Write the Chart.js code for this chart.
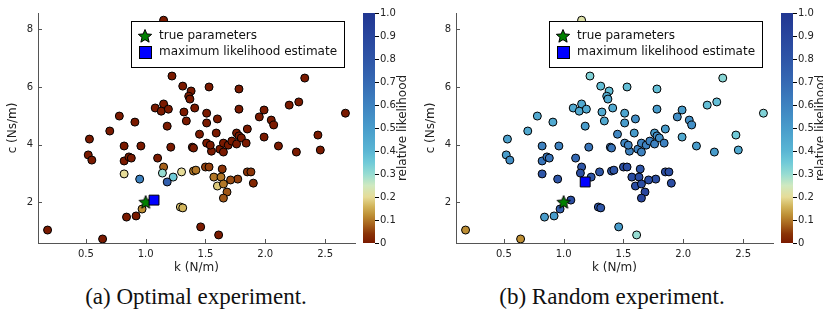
<!DOCTYPE html>
<html>
<head>
<meta charset="utf-8">
<script src="https://cdn.jsdelivr.net/npm/chart.js@4.4.1/dist/chart.umd.min.js"></script>
<style>
  body { margin: 0; background: #fff; width: 823px; height: 322px; position: relative; overflow: hidden; }
  .panel { position: absolute; top: 0; }
  #leftPanel { left: 0; }
  #rightPanel { left: 418px; }
  .caption {
    position: absolute; top: 285px; line-height: 24px;
    font-family: "Liberation Serif", "DejaVu Serif", serif; font-size: 23px; color: #111;
    white-space: nowrap; transform: translateX(-50%);
  }
</style>
</head>
<body>
<div class="panel" id="leftPanel"><canvas id="optimalChart" width="418" height="280"></canvas></div>
<div class="panel" id="rightPanel"><canvas id="randomChart" width="405" height="280"></canvas></div>
<div class="caption" style="left:196px">(a) Optimal experiment.</div>
<div class="caption" style="left:612px">(b) Random experiment.</div>

<script>
// sampled parameters (same samples in both panels)
const kValues = [1.15, 1.22, 1.31, 1.38, 1.36, 1.37, 1.15, 1.08, 1.13, 1.19,
  1.32, 1.41, 1.51, 1.51, 1.34, 1.18, 1.45, 0.91, 0.78, 0.70,
  0.53, 1.53, 2.33, 1.78, 1.78, 1.60, 1.99, 1.95, 2.05, 2.07,
  1.85, 2.20, 2.28, 2.67, 1.59, 1.76, 1.78, 1.99, 2.44, 0.82,
  0.96, 1.21, 1.39, 1.40, 1.51, 1.55, 0.52, 0.55, 0.82, 0.86,
  0.88, 1.10, 1.15, 0.82, 1.14, 1.23, 1.30, 0.95, 1.18, 1.40,
  1.42, 1.50, 1.53, 0.97, 1.29, 1.31, 0.84, 0.92, 1.46, 0.18,
  0.64, 1.61, 1.54, 1.62, 1.65, 1.65, 1.69, 1.72, 1.76, 1.80,
  1.84, 2.11, 2.26, 2.46, 1.64, 1.85, 1.88, 1.90, 1.77, 1.71,
  1.57, 1.63, 1.60, 1.65, 1.68, 1.65, 1.06];
const cValues = [8.32, 6.38, 6.03, 5.86, 5.68, 5.58, 5.41, 5.27, 5.16, 5.23,
  5.13, 5.27, 5.09, 4.75, 4.82, 4.64, 4.36, 4.78, 4.99, 4.47,
  4.19, 6.00, 6.31, 5.93, 5.23, 4.89, 5.20, 4.96, 4.85, 4.68,
  4.54, 5.37, 5.48, 5.09, 4.40, 4.40, 4.30, 4.26, 4.33, 3.95,
  3.95, 3.91, 3.91, 3.88, 4.05, 3.77, 3.64, 3.46, 3.43, 3.57,
  3.53, 3.53, 3.22, 2.98, 3.01, 2.87, 3.05, 2.80, 2.70, 3.08,
  3.11, 3.22, 3.22, 1.76, 1.83, 1.80, 1.48, 1.52, 1.14, 1.03,
  0.72, 0.86, 3.98, 3.84, 3.74, 4.05, 3.98, 4.12, 4.02, 4.23,
  4.05, 3.95, 3.74, 3.81, 3.15, 3.05, 3.05, 2.66, 2.80, 2.77,
  2.87, 2.87, 2.56, 2.63, 2.35, 2.14, 2.07];
const likelihoodOptimal = [0, 0, 0, 0, 0, 0, 0, 0, 0, 0,
  0, 0, 0, 0, 0, 0, 0, 0, 0, 0,
  0, 0, 0, 0, 0, 0, 0, 0, 0, 0,
  0, 0, 0, 0, 0, 0, 0, 0, 0, 0,
  0, 0, 0, 0, 0, 0, 0, 0, 0, 0,
  0, 0, 0.08, 0.2, 0.3, 0.35, 0.2, 0.6, 0.75, 0.1,
  0.1, 0.05, 0.05, 0.12, 0.17, 0.16, 0, 0, 0, 0,
  0, 0, 0, 0, 0, 0, 0, 0, 0, 0,
  0, 0, 0, 0, 0.04, 0.04, 0.04, 0.02, 0.05, 0.06,
  0.1, 0.1, 0.18, 0.1, 0.07, 0.07, 1.0];
const likelihoodRandom = [0.22, 0.33, 0.38, 0.38, 0.44, 0.45, 0.45, 0.45, 0.45, 0.45,
  0.45, 0.45, 0.47, 0.5, 0.45, 0.5, 0.58, 0.45, 0.45, 0.45,
  0.48, 0.38, 0.32, 0.38, 0.5, 0.55, 0.5, 0.55, 0.55, 0.55,
  0.5, 0.38, 0.38, 0.33, 0.5, 0.5, 0.55, 0.45, 0.35, 0.6,
  0.6, 0.65, 0.65, 0.65, 0.58, 0.6, 0.5, 0.55, 0.65, 0.65,
  0.65, 0.7, 0.8, 0.8, 0.85, 0.8, 0.8, 0.8, 1.0, 0.8,
  0.8, 0.85, 0.85, 0.75, 0.8, 0.8, 0.5, 0.5, 0.5, 0.12,
  0.12, 0.3, 0.6, 0.6, 0.6, 0.6, 0.6, 0.6, 0.6, 0.55,
  0.6, 0.5, 0.5, 0.45, 0.8, 0.85, 0.85, 0.85, 0.85, 0.85,
  0.85, 0.85, 0.85, 0.85, 0.9, 0.9, 0.85];

const trueK = 1.0;
const trueC = 2.0;
const mleOptimal = [1.07, 2.07];
const mleRandom = [1.18, 2.70];

const kTicks = [0.5, 1.0, 1.5, 2.0, 2.5];
const cTicks = [2, 4, 6, 8];
const likelihoodTicks = [0, 0.1, 0.2, 0.3, 0.4, 0.5, 0.6, 0.7, 0.8, 0.9, 1.0];

// colour map for relative likelihood
const colorStops = [
  [0.00, '#7a1a00'], [0.04, '#8a3306'], [0.08, '#a6621c'], [0.12, '#bd8e34'],
  [0.16, '#d2b55c'], [0.20, '#e6dc98'], [0.25, '#cfe9c0'], [0.30, '#96dcd2'],
  [0.35, '#70cad8'], [0.40, '#5ab6d4'], [0.50, '#489ccb'], [0.60, '#3e82c0'],
  [0.70, '#3569b3'], [0.80, '#2e55a7'], [0.90, '#28459d'], [1.00, '#213792']
];

function hexToRgb(h) {
  return [parseInt(h.slice(1, 3), 16), parseInt(h.slice(3, 5), 16), parseInt(h.slice(5, 7), 16)];
}

function colormap(v) {
  for (let i = 1; i < colorStops.length; i++) {
    if (v <= colorStops[i][0]) {
      const [v0, c0] = colorStops[i - 1];
      const [v1, c1] = colorStops[i];
      const t = (v - v0) / (v1 - v0);
      const a = hexToRgb(c0), b = hexToRgb(c1);
      const rgb = a.map((x, j) => Math.round(x + (b[j] - x) * t));
      return 'rgb(' + rgb.join(',') + ')';
    }
  }
  return colorStops[colorStops.length - 1][1];
}

// filled star marker
function makeStar(size) {
  const cv = document.createElement('canvas');
  cv.width = size; cv.height = size;
  const g = cv.getContext('2d');
  const cx = size / 2, cy = size / 2 + 0.5, R = size / 2 - 1, r = R * 0.45;
  g.beginPath();
  for (let i = 0; i < 10; i++) {
    const rad = i % 2 === 0 ? R : r;
    const a = -Math.PI / 2 + i * Math.PI / 5;
    const px = cx + rad * Math.cos(a), py = cy + rad * Math.sin(a);
    if (i === 0) g.moveTo(px, py); else g.lineTo(px, py);
  }
  g.closePath();
  g.fillStyle = '#008000';
  g.fill();
  g.strokeStyle = '#000';
  g.lineWidth = 1;
  g.stroke();
  return cv;
}
const starImage = makeStar(16);

const fontFamily = '"DejaVu Sans", sans-serif';

const colorbarPlugin = {
  id: 'colorbar',
  afterDraw(chart) {
    const ctx = chart.ctx, area = chart.chartArea, s = chart.scales.y2;
    const x0 = area.right + 8, w = 12;
    const top = s.getPixelForValue(1), bottom = s.getPixelForValue(0);
    const grad = ctx.createLinearGradient(0, bottom, 0, top);
    colorStops.forEach(([v, col]) => grad.addColorStop(v, col));
    ctx.save();
    ctx.fillStyle = grad;
    ctx.fillRect(x0, top, w, bottom - top);
    ctx.strokeStyle = '#000';
    ctx.lineWidth = 1;
    likelihoodTicks.forEach(v => {
      const y = Math.round(s.getPixelForValue(v)) + 0.5;
      ctx.beginPath();
      ctx.moveTo(x0 + w, y);
      ctx.lineTo(x0 + w + 4, y);
      ctx.stroke();
    });
    ctx.translate(area.right + 48, (area.top + area.bottom) / 2);
    ctx.rotate(-Math.PI / 2);
    ctx.font = '12px ' + fontFamily;
    ctx.fillStyle = '#222';
    ctx.textAlign = 'center';
    ctx.textBaseline = 'middle';
    ctx.fillText('relative likelihood', 0, 0);
    ctx.restore();
  }
};

// short ticks pointing into the plot
const innerTicksPlugin = {
  id: 'innerTicks',
  afterDraw(chart) {
    const ctx = chart.ctx, area = chart.chartArea;
    ctx.save();
    ctx.strokeStyle = '#555';
    ctx.lineWidth = 1;
    kTicks.forEach(v => {
      const x = Math.round(chart.scales.x.getPixelForValue(v)) + 0.5;
      ctx.beginPath(); ctx.moveTo(x, area.bottom); ctx.lineTo(x, area.bottom - 4); ctx.stroke();
    });
    cTicks.forEach(v => {
      const y = Math.round(chart.scales.y.getPixelForValue(v)) + 0.5;
      ctx.beginPath(); ctx.moveTo(area.left, y); ctx.lineTo(area.left + 4, y); ctx.stroke();
    });
    ctx.restore();
  }
};

const legendBoxPlugin = {
  id: 'legendBox',
  afterDraw(chart) {
    const ctx = chart.ctx, area = chart.chartArea;
    const x = area.left + 93, y = area.top + 8, w = 213, h = 46;
    ctx.save();
    ctx.fillStyle = '#fff';
    ctx.fillRect(x, y, w, h);
    ctx.strokeStyle = '#000';
    ctx.lineWidth = 1;
    ctx.strokeRect(x + 0.5, y + 0.5, w, h);
    ctx.drawImage(starImage, x + 14 - 8, y + 15 - 8);
    ctx.fillStyle = '#0000ff';
    ctx.fillRect(x + 8, y + 25, 13, 13);
    ctx.strokeRect(x + 8.5, y + 25.5, 12, 12);
    ctx.fillStyle = '#111';
    ctx.font = '12px ' + fontFamily;
    ctx.textBaseline = 'middle';
    ctx.fillText('true parameters', x + 28, y + 15);
    ctx.fillText('maximum likelihood estimate', x + 28, y + 31);
    ctx.restore();
  }
};

function createChart(canvasId, likelihood, mle) {
  const canvas = document.getElementById(canvasId);
  const rightWidth = canvas.width - 355;
  const tickFont = { size: 10, family: fontFamily };
  return new Chart(canvas.getContext('2d'), {
    type: 'scatter',
    data: {
      datasets: [
        {
          label: 'maximum likelihood estimate',
          data: [{ x: mle[0], y: mle[1] }],
          pointStyle: 'rect',
          pointRadius: 7,
          backgroundColor: '#0000ff',
          borderColor: '#000',
          borderWidth: 1,
          order: 0
        },
        {
          label: 'true parameters',
          data: [{ x: trueK, y: trueC }],
          pointStyle: starImage,
          order: 1
        },
        {
          label: 'samples',
          data: kValues.map((k, i) => ({ x: k, y: cValues[i] })),
          pointRadius: 4,
          pointBackgroundColor: likelihood.map(colormap),
          pointBorderColor: '#000',
          pointBorderWidth: 1,
          order: 2
        }
      ]
    },
    options: {
      responsive: false,
      animation: false,
      events: [],
      layout: { autoPadding: false, padding: { top: 13, left: 0, right: 0, bottom: 0 } },
      plugins: { legend: { display: false }, tooltip: { enabled: false } },
      scales: {
        x: {
          type: 'linear', min: 0.1, max: 2.75,
          afterBuildTicks: s => { s.ticks = kTicks.map(v => ({ value: v })); },
          afterFit: s => { s.height = 37; },
          ticks: { callback: v => v.toFixed(1), font: tickFont, color: '#222', padding: 5, maxRotation: 0 },
          grid: { display: false, drawTicks: false },
          border: { color: '#555', width: 1 },
          title: { display: true, text: 'k (N/m)', color: '#222', font: { size: 12, family: fontFamily }, padding: { top: 0, bottom: 5 } }
        },
        y: {
          type: 'linear', min: 0.58, max: 8.57,
          afterBuildTicks: s => { s.ticks = cTicks.map(v => ({ value: v })); },
          afterFit: s => { s.width = 38; },
          ticks: { callback: v => String(v), font: tickFont, color: '#222', padding: 5 },
          grid: { display: false, drawTicks: false },
          border: { color: '#555', width: 1 },
          title: { display: true, text: 'c (Ns/m)', color: '#222', font: { size: 12, family: fontFamily }, padding: { top: 6, bottom: 0 } }
        },
        y2: {
          type: 'linear', position: 'right', min: 0, max: 1,
          afterBuildTicks: s => { s.ticks = likelihoodTicks.map(v => ({ value: v })); },
          afterFit: s => { s.width = rightWidth; s.paddingTop = 0; s.paddingBottom = 0; },
          ticks: { callback: v => (v === 0 ? '0' : v.toFixed(1)), font: tickFont, color: '#222', padding: 25 },
          grid: { display: false, drawTicks: false },
          border: { display: false }
        }
      }
    },
    plugins: [innerTicksPlugin, colorbarPlugin, legendBoxPlugin]
  });
}

createChart('optimalChart', likelihoodOptimal, mleOptimal);
createChart('randomChart', likelihoodRandom, mleRandom);
</script>
</body>
</html>
